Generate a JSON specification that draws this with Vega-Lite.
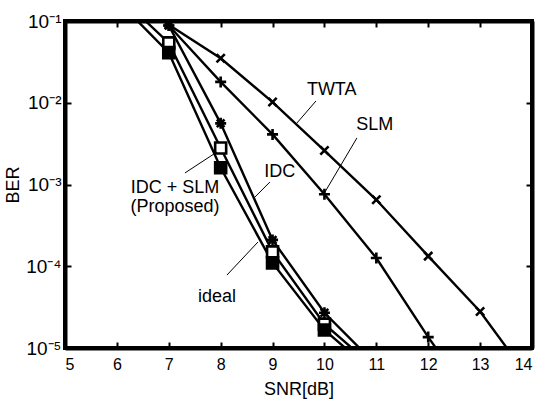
{
  "$schema": "https://vega.github.io/schema/vega-lite/v6.json",
  "width": 467,
  "height": 327,
  "autosize": {"type": "none"},
  "padding": {"left": 65, "top": 21, "right": 13, "bottom": 51},
  "background": "white",
  "config": {
    "view": {"stroke": "black", "strokeWidth": 4},
    "axis": {
      "labelFont": "Liberation Sans",
      "titleFont": "Liberation Sans",
      "labelFontSize": 16,
      "titleFontSize": 18,
      "titleFontWeight": "normal",
      "labelColor": "black",
      "titleColor": "black",
      "grid": false,
      "domain": true,
      "domainColor": "black",
      "domainWidth": 4,
      "tickColor": "black",
      "tickWidth": 2,
      "tickSize": -6
    }
  },
  "datasets": {
    "curves": [
      {"series": "TWTA", "snr": 6, "ber": 0.3},
      {"series": "TWTA", "snr": 7, "ber": 0.09},
      {"series": "TWTA", "snr": 8, "ber": 0.035},
      {"series": "TWTA", "snr": 9, "ber": 0.0102},
      {"series": "TWTA", "snr": 10, "ber": 0.0026},
      {"series": "TWTA", "snr": 11, "ber": 0.00065},
      {"series": "TWTA", "snr": 12, "ber": 0.000133},
      {"series": "TWTA", "snr": 13, "ber": 0.000028},
      {"series": "TWTA", "snr": 14, "ber": 0.0000038},
      {"series": "SLM", "snr": 6, "ber": 0.3},
      {"series": "SLM", "snr": 7, "ber": 0.088},
      {"series": "SLM", "snr": 8, "ber": 0.018},
      {"series": "SLM", "snr": 9, "ber": 0.0041},
      {"series": "SLM", "snr": 10, "ber": 0.00076},
      {"series": "SLM", "snr": 11, "ber": 0.000126},
      {"series": "SLM", "snr": 12, "ber": 0.0000136},
      {"series": "SLM", "snr": 13, "ber": 0.0000017},
      {"series": "IDC", "snr": 6, "ber": 0.5},
      {"series": "IDC", "snr": 7, "ber": 0.088},
      {"series": "IDC", "snr": 8, "ber": 0.0056},
      {"series": "IDC", "snr": 9, "ber": 0.00021},
      {"series": "IDC", "snr": 10, "ber": 0.000027},
      {"series": "IDC", "snr": 11, "ber": 0.0000062},
      {"series": "IDC + SLM", "snr": 6, "ber": 0.214},
      {"series": "IDC + SLM", "snr": 7, "ber": 0.054},
      {"series": "IDC + SLM", "snr": 8, "ber": 0.0028},
      {"series": "IDC + SLM", "snr": 9, "ber": 0.00015},
      {"series": "IDC + SLM", "snr": 10, "ber": 0.0000196},
      {"series": "IDC + SLM", "snr": 11, "ber": 0.0000055},
      {"series": "ideal", "snr": 6, "ber": 0.18},
      {"series": "ideal", "snr": 7, "ber": 0.041},
      {"series": "ideal", "snr": 8, "ber": 0.0016},
      {"series": "ideal", "snr": 9, "ber": 0.00011},
      {"series": "ideal", "snr": 10, "ber": 0.0000166},
      {"series": "ideal", "snr": 11, "ber": 0.0000047}
    ],
    "labels": [
      {"text": "TWTA", "snr": 10.14, "ber": 0.01245},
      {"text": "SLM", "snr": 10.97, "ber": 0.00465},
      {"text": "IDC", "snr": 9.14, "ber": 0.001236},
      {"text": "IDC + SLM", "snr": 7.12, "ber": 0.000787},
      {"text": "(Proposed)", "snr": 7.12, "ber": 0.000461},
      {"text": "ideal", "snr": 7.93, "ber": 0.0000366}
    ],
    "leaders": [
      {"snr": 9.836, "ber": 0.0105, "snr2": 9.47, "ber2": 0.00565},
      {"snr": 10.626, "ber": 0.00371, "snr2": 10.01, "ber2": 0.000809},
      {"snr": 8.95, "ber": 0.001074, "snr2": 8.661, "ber2": 0.000703},
      {"snr": 7.312, "ber": 0.001384, "snr2": 7.929, "ber2": 0.0025},
      {"snr": 8.121, "ber": 0.000078, "snr2": 8.719, "ber2": 0.000198}
    ]
  },
  "layer": [
    {
      "data": {"name": "curves"},
      "mark": {"type": "line", "color": "black", "strokeWidth": 2.4, "clip": true},
      "encoding": {
        "x": {
          "field": "snr", "type": "quantitative",
          "scale": {"domain": [5, 14], "nice": false, "zero": false},
          "axis": {"orient": "bottom", "values": [5,6,7,8,9,10,11,12,13,14], "title": "SNR[dB]", "labelPadding": 14, "titlePadding": 8}
        },
        "y": {
          "field": "ber", "type": "quantitative",
          "scale": {"type": "log", "domain": [0.00001, 0.1], "nice": false},
          "axis": {"orient": "left", "values": [0.00001, 0.0001, 0.001, 0.01, 0.1], "labelExpr": "'10⁻' + ['','¹','²','³','⁴','⁵'][-round(log(datum.value)/LN10)]", "labelFontSize": 19, "title": "BER", "labelPadding": 10, "titlePadding": 3}
        },
        "detail": {"field": "series"}
      }
    },
    {
      "data": {"name": "curves"},
      "mark": {"type": "point", "stroke": "black", "strokeWidth": 2.6, "opacity": 1, "clip": true},
      "encoding": {
        "x": {"field": "snr", "type": "quantitative", "axis": null},
        "y": {"field": "ber", "type": "quantitative", "axis": null},
        "shape": {
          "field": "series", "type": "nominal", "legend": null,
          "scale": {
            "domain": ["TWTA", "SLM", "IDC", "IDC + SLM", "ideal"],
            "range": [
              "M-0.75,-0.75L0.75,0.75M-0.75,0.75L0.75,-0.75",
              "M-1,0L1,0M0,-1L0,1",
              "M-1,0L1,0M0,-1L0,1M-0.7,-0.7L0.7,0.7M-0.7,0.7L0.7,-0.7",
              "square",
              "square"
            ]
          }
        },
        "fill": {
          "field": "series", "type": "nominal", "legend": null,
          "scale": {
            "domain": ["TWTA", "SLM", "IDC", "IDC + SLM", "ideal"],
            "range": ["transparent", "transparent", "transparent", "white", "black"]
          }
        },
        "size": {"value": 121}
      }
    },
    {
      "data": {"name": "leaders"},
      "mark": {"type": "rule", "color": "black", "strokeWidth": 1},
      "encoding": {
        "x": {"field": "snr", "type": "quantitative", "axis": null},
        "y": {"field": "ber", "type": "quantitative", "axis": null},
        "x2": {"field": "snr2"},
        "y2": {"field": "ber2"}
      }
    },
    {
      "data": {"name": "labels"},
      "mark": {"type": "text", "font": "Liberation Sans", "fontSize": 18, "align": "center", "baseline": "alphabetic", "color": "black"},
      "encoding": {
        "x": {"field": "snr", "type": "quantitative", "axis": null},
        "y": {"field": "ber", "type": "quantitative", "axis": null},
        "text": {"field": "text"}
      }
    },
    {
      "data": {"name": "leaders"},
      "mark": {"type": "rule", "opacity": 0},
      "encoding": {
        "x": {"field": "snr", "type": "quantitative", "axis": {"orient": "top", "values": [5,6,7,8,9,10,11,12,13,14], "labels": false, "title": null}},
        "y": {"field": "ber", "type": "quantitative", "axis": {"orient": "right", "values": [0.00001, 0.0001, 0.001, 0.01, 0.1], "labels": false, "title": null}}
      }
    }
  ],
  "resolve": {"axis": {"x": "independent", "y": "independent"}}
}
